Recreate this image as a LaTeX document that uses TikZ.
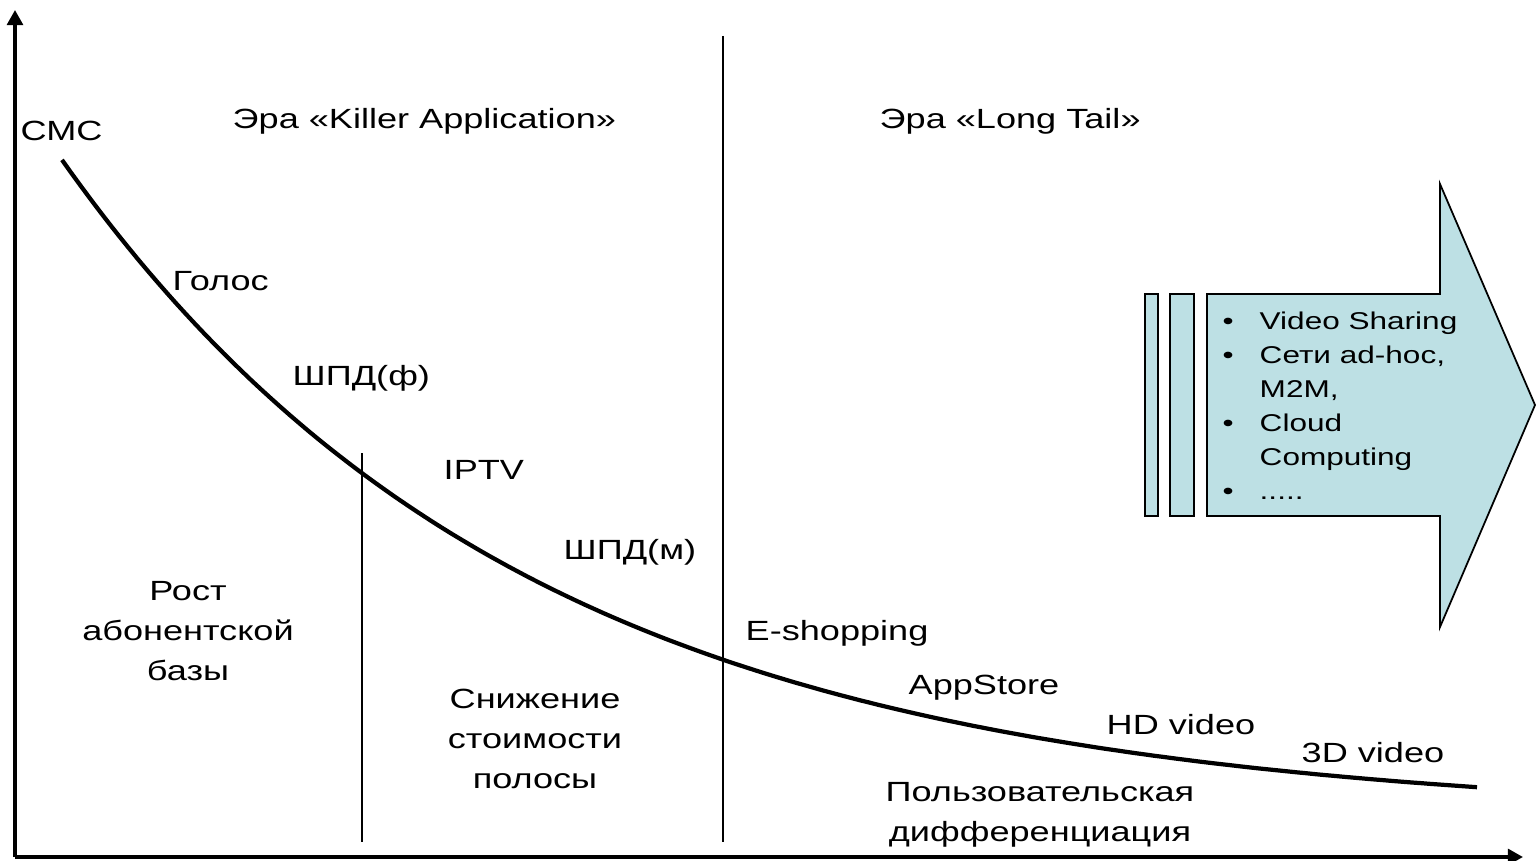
\documentclass[tikz,border=0pt]{standalone}
\usepackage{fontspec}
\usetikzlibrary{arrows.meta}
\newfontfamily\labfont{Liberation Sans}[FakeStretch=1.3]
\definecolor{arrowfill}{RGB}{189,224,228}

\begin{document}
\begin{tikzpicture}[x=0.01cm, y=-0.01cm,
  axis/.style={line width=1pt, -{Triangle[length=4.3pt, width=4.5pt]}},
  divider/.style={line width=0.5pt},
  curve/.style={line width=1.2pt},
  lab/.style={inner sep=0pt, font=\labfont\fontsize{7.9pt}{11.3pt}\selectfont},
  blk/.style={lab, align=center, anchor=base},
  tag/.style={lab, anchor=base west},
  tealpart/.style={draw=black, line width=0.5pt, fill=arrowfill, line join=miter}]

\useasboundingbox (0,0) rectangle (1537,861);

% axes
\coordinate (origin) at (15,857);
\coordinate (ytop) at (15,10);
\coordinate (xend) at (1523,857);
\draw[axis] (origin) -- (ytop);
\draw[axis] (origin) -- (xend);

% era dividers
\coordinate (d1top) at (362,453);
\coordinate (d1bot) at (362,842);
\coordinate (d2top) at (723,36);
\coordinate (d2bot) at (723,842);
\draw[divider] (d1top) -- (d1bot);
\draw[divider] (d2top) -- (d2bot);

% demand curve
\draw[curve] plot[domain=62:1477, samples=150] (\x, {818.5-752.4*exp(-0.00215*\x)});

% outlook arrow with two lead-in bars
\draw[tealpart] (1145,294) rectangle (1158,516);
\draw[tealpart] (1170,294) rectangle (1194,516);
\draw[tealpart] (1207,294) -- (1440,294) -- (1440,184) -- (1535,405)
  -- (1440,627) -- (1440,516) -- (1207,516) -- cycle;
\node[inner sep=0pt, anchor=base west, font=\labfont\fontsize{6.9pt}{9.65pt}\selectfont] (trends) at (1222,330)
  {\begin{tabular}[t]{@{}l@{}l@{}}
   \makebox[3.7mm][l]{•} & Video Sharing\\
   \makebox[3.7mm][l]{•} & Сети ad-hoc,\\
   & M2M,\\
   \makebox[3.7mm][l]{•} & Cloud\\
   & Computing\\
   \makebox[3.7mm][l]{•} & .....
   \end{tabular}};

% era titles
\node[tag] (era1) at (232,129) {Эра «Killer Application»};
\node[tag] (era2) at (879,129) {Эра «Long Tail»};

% services along the curve
\node[tag] (sms) at (20,141) {СМС};
\node[tag] (voice) at (172,291) {Голос};
\node[tag] (bbf) at (292,385) {ШПД(ф)};
\node[tag] (iptv) at (443,479) {IPTV};
\node[tag] (bbm) at (563,559) {ШПД(м)};
\node[tag] (eshop) at (745,640) {E-shopping};
\node[tag] (appstore) at (908,694) {AppStore};
\node[tag] (hd) at (1106,734) {HD video};
\node[tag] (threed) at (1301,762) {3D video};

% growth drivers (anchored at the baseline of the last line)
\node[blk] (growth) at (188,680) {Рост\\абонентской\\базы};
\node[blk] (cost) at (535,788) {Снижение\\стоимости\\полосы};
\node[blk] (diff) at (1040,841) {Пользовательская\\дифференциация};

\end{tikzpicture}
\end{document}
